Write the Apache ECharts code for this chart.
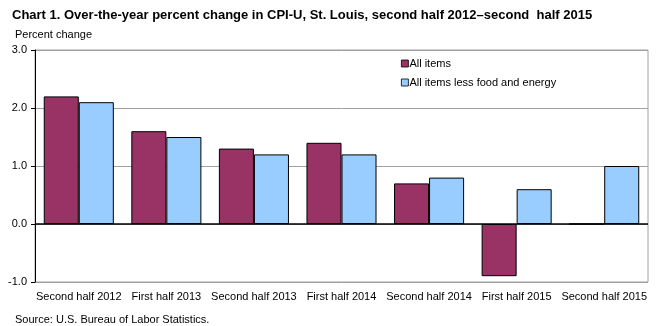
<!DOCTYPE html>
<html><head><meta charset="utf-8">
<script src="https://cdn.jsdelivr.net/npm/echarts@6/dist/echarts.min.js"></script>
<style>html,body{margin:0;padding:0;background:#fff}#c{width:659px;height:326px}</style>
</head><body><div id="c"></div>
<script>
var categories = ["Second half 2012","First half 2013","Second half 2013","First half 2014","Second half 2014","First half 2015","Second half 2015"];
var allItems = [2.2, 1.6, 1.3, 1.4, 0.7, -0.9, 0.0];
var coreItems = [2.1, 1.5, 1.2, 1.2, 0.8, 0.6, 1.0];
var yTicks = [-1, 0, 1, 2, 3];
var F = '"Liberation Sans", Arial, sans-serif';
var chart = echarts.init(document.getElementById('c'), null, {renderer:'canvas'});
chart.setOption({
  animation: false,
  textStyle: {fontFamily: F},
  title: [
    {text: 'Chart 1. Over-the-year percent change in CPI-U, St. Louis, second half 2012\u2013second  half 2015', left: 7, top: 4,
     textStyle: {fontFamily: F, fontSize: 13, fontWeight: 'bold', color: '#000'}},
    {text: 'Percent change', left: 10, top: 24, textStyle: {fontFamily: F, fontSize: 11, fontWeight: 'normal', color: '#000'}},
    {text: 'Source: U.S. Bureau of Labor Statistics.', left: 10, top: 309, textStyle: {fontFamily: F, fontSize: 11, fontWeight: 'normal', color: '#000'}}
  ],
  legend: {
    orient: 'vertical', left: 396, top: 53, itemWidth: 7, itemHeight: 7, itemGap: 8,
    icon: 'rect', itemStyle: {borderWidth: 0.8, borderColor: '#000'},
    textStyle: {fontFamily: F, fontSize: 11, color: '#000', padding: [0,0,0,-4]},
    data: ['All items', 'All items less food and energy']
  },
  grid: {left: 35, right: 11, top: 50, bottom: 44, show: true, borderColor: '#a0a0a0', borderWidth: 1},
  xAxis: {
    type: 'category', data: categories, position: 'bottom',
    axisLine: {show: false, onZero: false}, axisTick: {show: false},
    axisLabel: {fontFamily: F, fontSize: 11, color: '#000', margin: 9, interval: 0}
  },
  yAxis: {
    type: 'value', min: -1, max: 3, interval: 1,
    axisLine: {show: true, lineStyle: {color: '#000', width: 1}},
    axisTick: {show: true, length: 4, lineStyle: {color: '#000'}},
    axisLabel: {fontFamily: F, fontSize: 11, color: '#000', margin: 8, formatter: function(v){return yTicks.indexOf(v) >= 0 ? v.toFixed(1) : '';}},
    splitLine: {show: true, lineStyle: {color: '#a0a0a0', width: 1}}
  },
  series: [
    {name: 'All items', type: 'bar', data: allItems, barGap: '0%', barCategoryGap: '20%',
     itemStyle: {color: '#993366', borderColor: '#000', borderWidth: 1},
     markLine: {silent: true, symbol: 'none', label: {show: false}, lineStyle: {color: '#000', type: 'solid', width: 1.5},
       data: [{yAxis: 0}]}},
    {name: 'All items less food and energy', type: 'bar', data: coreItems,
     itemStyle: {color: '#99ccff', borderColor: '#000', borderWidth: 1}}
  ]
});
</script></body></html>
